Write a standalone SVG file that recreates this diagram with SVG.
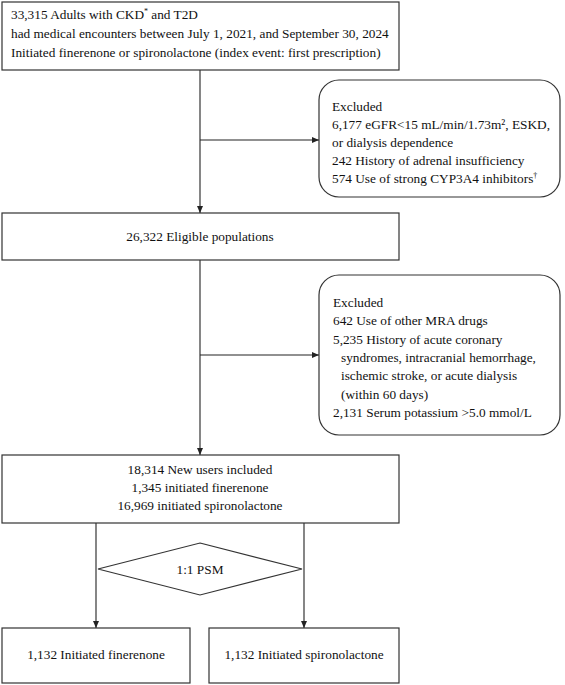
<svg xmlns="http://www.w3.org/2000/svg" width="565" height="685" viewBox="0 0 565 685">
<style>
.box{fill:#fff;stroke:#333;stroke-width:1.2}
.t{font-family:"Liberation Serif","Times New Roman",serif;font-size:13.3px;fill:#111}
.c{text-anchor:middle}
.ln{stroke:#222;stroke-width:1.1;fill:none}
</style>
<defs>
<marker id="ah" markerWidth="8" markerHeight="8" refX="7" refY="3.5" orient="auto" markerUnits="userSpaceOnUse">
<path d="M0,0.5 L7,3.5 L0,6.5 Z" fill="#222"/>
</marker>
</defs>
<rect width="565" height="685" fill="#fff"/>
<g id="connectors">
<line class="ln" x1="200" y1="70" x2="200" y2="213" marker-end="url(#ah)"/>
<line class="ln" x1="200" y1="140" x2="319" y2="140" marker-end="url(#ah)"/>
<line class="ln" x1="200" y1="260" x2="200" y2="455" marker-end="url(#ah)"/>
<line class="ln" x1="200" y1="355" x2="319" y2="355" marker-end="url(#ah)"/>
<line class="ln" x1="96" y1="523" x2="96" y2="628" marker-end="url(#ah)"/>
<line class="ln" x1="304" y1="523" x2="304" y2="628" marker-end="url(#ah)"/>
</g>
<g id="n-start">
<rect class="box" x="2" y="2" width="397" height="68"/>
<text class="t" x="11" y="18.5">33,315 Adults with CKD<tspan font-size="8" dy="-5">*</tspan><tspan dy="5"> and T2D</tspan></text>
<text class="t" x="11" y="37.5">had medical encounters between July 1, 2021, and September 30, 2024</text>
<text class="t" x="11" y="56.5">Initiated finerenone or spironolactone (index event: first prescription)</text>
</g>
<g id="n-excl1">
<rect class="box" x="319" y="80" width="241" height="117" rx="20" ry="20"/>
<text class="t" x="332" y="111">Excluded</text>
<text class="t" x="332" y="129">6,177 eGFR&lt;15 mL/min/1.73m², ESKD,</text>
<text class="t" x="332" y="147">or dialysis dependence</text>
<text class="t" x="332" y="165">242 History of adrenal insufficiency</text>
<text class="t" x="332" y="183">574 Use of strong CYP3A4 inhibitors<tspan font-size="8" dy="-5">†</tspan></text>
</g>
<g id="n-eligible">
<rect class="box" x="2" y="213" width="397" height="47"/>
<text class="t c" x="200" y="241">26,322 Eligible populations</text>
</g>
<g id="n-excl2">
<rect class="box" x="319" y="275" width="241" height="160" rx="20" ry="20"/>
<text class="t" x="333" y="307">Excluded</text>
<text class="t" x="333" y="325.3">642 Use of other MRA drugs</text>
<text class="t" x="333" y="343.6">5,235 History of acute coronary</text>
<text class="t" x="341" y="361.9">syndromes, intracranial hemorrhage,</text>
<text class="t" x="341" y="380.2">ischemic stroke, or acute dialysis</text>
<text class="t" x="341" y="398.5">(within 60 days)</text>
<text class="t" x="333" y="416.8">2,131 Serum potassium &gt;5.0 mmol/L</text>
</g>
<g id="n-newusers">
<rect class="box" x="2" y="455" width="397" height="68"/>
<text class="t c" x="200" y="474">18,314 New users included</text>
<text class="t c" x="200" y="492">1,345 initiated finerenone</text>
<text class="t c" x="200" y="510">16,969 initiated spironolactone</text>
</g>
<g id="n-psm">
<polygon class="box" points="200,543 302,569 200,595 98,569"/>
<text class="t c" x="200" y="573.5">1:1 PSM</text>
</g>
<g id="n-fin">
<rect class="box" x="2" y="628" width="188" height="55"/>
<text class="t c" x="96" y="659">1,132 Initiated finerenone</text>
</g>
<g id="n-spi">
<rect class="box" x="209" y="628" width="190" height="55"/>
<text class="t c" x="304" y="659">1,132 Initiated spironolactone</text>
</g>
</svg>
